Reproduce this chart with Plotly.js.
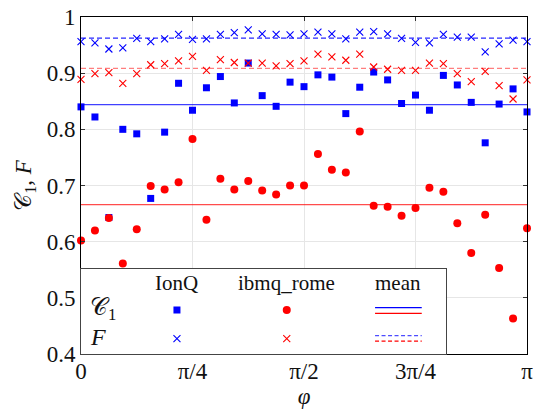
<!DOCTYPE html>
<html>
<head>
<meta charset="utf-8">
<script src="https://cdn.plot.ly/plotly-3.0.1.min.js"></script>
<style>
  html, body { margin: 0; padding: 0; background: #fff; }
  #chart { width: 534px; height: 414px; }
</style>
</head>
<body>
<div id="chart"></div>
<script>
// Number of equal steps of the phase angle between 0 and pi
const phaseSteps = 32;

// Coherence C1 and fidelity F for each phase, on both devices
const ionqC1 = [0.840, 0.822, 0.643, 0.800, 0.792, 0.677, 0.795, 0.882, 0.834, 0.874, 0.894,
                0.847, 0.918, 0.860, 0.841, 0.884, 0.876, 0.897, 0.893, 0.828, 0.875, 0.902,
                0.888, 0.846, 0.861, 0.834, 0.896, 0.879, 0.848, 0.776, 0.845, 0.872, 0.831];
const ionqF  = [0.956, 0.954, 0.943, 0.945, 0.962, 0.956, 0.961, 0.969, 0.960, 0.961, 0.969,
                0.972, 0.977, 0.970, 0.969, 0.968, 0.970, 0.973, 0.970, 0.961, 0.973, 0.974,
                0.970, 0.962, 0.955, 0.954, 0.969, 0.964, 0.964, 0.938, 0.952, 0.959, 0.956];
const romeC1 = [0.602, 0.620, 0.642, 0.561, 0.622, 0.699, 0.693, 0.706, 0.783, 0.639, 0.712,
                0.693, 0.708, 0.691, 0.684, 0.700, 0.700, 0.756, 0.728, 0.723, 0.796, 0.664,
                0.662, 0.646, 0.660, 0.696, 0.689, 0.633, 0.580, 0.648, 0.553, 0.463, 0.624];
const romeF  = [0.889, 0.899, 0.901, 0.882, 0.899, 0.915, 0.917, 0.922, 0.930, 0.905, 0.924,
                0.919, 0.918, 0.918, 0.913, 0.917, 0.922, 0.934, 0.929, 0.923, 0.934, 0.911,
                0.907, 0.905, 0.905, 0.918, 0.917, 0.899, 0.885, 0.903, 0.878, 0.854, 0.888];

const xTickVals  = [0, Math.PI / 4, Math.PI / 2, 3 * Math.PI / 4, Math.PI];
const xTickText  = ['0', 'π/4', 'π/2', '3π/4', 'π'];
const yTickVals  = [0.4, 0.5, 0.6, 0.7, 0.8, 0.9, 1];
const yTickText  = ['0.4', '0.5', '0.6', '0.7', '0.8', '0.9', '1'];

const legendCols = ['IonQ', 'ibmq_rome', 'mean'];
const legendRows = ['𝒞<sub>1</sub>', '<i>F</i>'];

const phi = ionqC1.map((_, k) => k * Math.PI / phaseSteps);
const mean = a => a.reduce((s, v) => s + v, 0) / a.length;

const BLUE = '#0000ff';
const RED = '#ff0000';
const SERIF = 'Liberation Serif, Times New Roman, DejaVu Serif, serif';

function meanLine(values, color, dash) {
  const m = mean(values);
  return {
    x: [0, Math.PI], y: [m, m], mode: 'lines', type: 'scatter',
    line: { color: color, width: 1.3, dash: dash }, hoverinfo: 'skip'
  };
}
function markers(values, symbol, color, size, lineWidth) {
  return {
    x: phi, y: values, mode: 'markers', type: 'scatter', cliponaxis: false,
    marker: { symbol: symbol, color: color, size: size, line: { color: color, width: lineWidth } }
  };
}

const traces = [
  meanLine(ionqC1, 'rgba(0,0,255,0.75)', 'solid'),
  meanLine(romeC1, 'rgba(255,0,0,0.7)', 'solid'),
  meanLine(ionqF, 'rgba(0,0,255,0.85)', '5px,3px'),
  meanLine(romeF, 'rgba(255,40,40,0.6)', '5px,3px'),
  markers(ionqC1, 'square', BLUE, 7, 0),
  markers(ionqF, 'x-thin-open', BLUE, 7, 1.1),
  markers(romeC1, 'circle', RED, 8, 0),
  markers(romeF, 'x-thin-open', RED, 7, 1.1)
];

// Key box: a small inset subplot in the lower-left corner
const keyTraces = [
  { x: [0.263], y: [0.517], xaxis: 'x2', yaxis: 'y2', mode: 'markers', type: 'scatter',
    marker: { symbol: 'square', color: BLUE, size: 7 } },
  { x: [0.564], y: [0.517], xaxis: 'x2', yaxis: 'y2', mode: 'markers', type: 'scatter',
    marker: { symbol: 'circle', color: RED, size: 8 } },
  { x: [0.263], y: [0.181], xaxis: 'x2', yaxis: 'y2', mode: 'markers', type: 'scatter',
    marker: { symbol: 'x-thin-open', color: BLUE, size: 7, line: { color: BLUE, width: 1.1 } } },
  { x: [0.564], y: [0.181], xaxis: 'x2', yaxis: 'y2', mode: 'markers', type: 'scatter',
    marker: { symbol: 'x-thin-open', color: RED, size: 7, line: { color: RED, width: 1.1 } } },
  { x: [0.806, 0.934], y: [0.545, 0.545], xaxis: 'x2', yaxis: 'y2', mode: 'lines', type: 'scatter',
    line: { color: BLUE, width: 1.3 } },
  { x: [0.806, 0.934], y: [0.478, 0.478], xaxis: 'x2', yaxis: 'y2', mode: 'lines', type: 'scatter',
    line: { color: RED, width: 1.3 } },
  { x: [0.806, 0.934], y: [0.216, 0.216], xaxis: 'x2', yaxis: 'y2', mode: 'lines', type: 'scatter',
    line: { color: 'rgba(0,0,255,0.7)', width: 1.3, dash: '4px,2.5px' } },
  { x: [0.806, 0.934], y: [0.152, 0.152], xaxis: 'x2', yaxis: 'y2', mode: 'lines', type: 'scatter',
    line: { color: RED, width: 1.3, dash: '4px,2.5px' } }
];

const headerX = [0.263, 0.564, 0.868];
const annotations = [];
legendCols.forEach((t, i) => annotations.push({
  xref: 'x2', yref: 'y2', x: headerX[i], y: 0.84, text: t, showarrow: false,
  font: { family: SERIF, size: 21, color: '#111' }
}));
legendRows.forEach((t, i) => annotations.push({
  xref: 'x2', yref: 'y2', x: 0.018, y: i === 0 ? 0.53 : 0.2, text: t, showarrow: false,
  xanchor: 'left', font: { family: SERIF, size: 24, color: '#111' }
}));

const axisBase = {
  showline: true, linecolor: '#000', linewidth: 1, mirror: 'ticks',
  ticks: 'inside', ticklen: 4, tickcolor: '#333',
  showgrid: true, gridcolor: '#e6e6e6', gridwidth: 1, zeroline: false,
  tickfont: { family: SERIF, size: 23, color: '#111' }
};

const layout = {
  width: 534, height: 414,
  margin: { l: 81, r: 7, t: 17, b: 60 },
  font: { family: SERIF, color: '#111' },
  paper_bgcolor: '#fff', plot_bgcolor: '#fff',
  showlegend: false,
  xaxis: Object.assign({}, axisBase, {
    range: [0, Math.PI], tickvals: xTickVals, ticktext: xTickText, ticklabelstandoff: -4,
    title: { text: '<i>φ</i>', font: { family: SERIF, size: 23, color: '#111' }, standoff: 2 }
  }),
  yaxis: Object.assign({}, axisBase, {
    range: [0.4, 1], tickvals: yTickVals, ticktext: yTickText,
    title: { text: '𝒞<sub>1</sub>, <i>F</i>', font: { family: SERIF, size: 23, color: '#111' }, standoff: 8 }
  }),
  xaxis2: {
    domain: [0, 0.818], anchor: 'y2', range: [0, 1], showgrid: false, zeroline: false,
    showticklabels: false, ticks: '', showline: true, mirror: true, linecolor: '#444', linewidth: 1
  },
  yaxis2: {
    domain: [0, 0.252], anchor: 'x2', range: [0, 1], showgrid: false, zeroline: false,
    showticklabels: false, ticks: '', showline: true, mirror: true, linecolor: '#444', linewidth: 1
  },
  annotations: annotations
};

Plotly.newPlot('chart', traces.concat(keyTraces), layout, { displayModeBar: false, staticPlot: true });
</script>
</body>
</html>
